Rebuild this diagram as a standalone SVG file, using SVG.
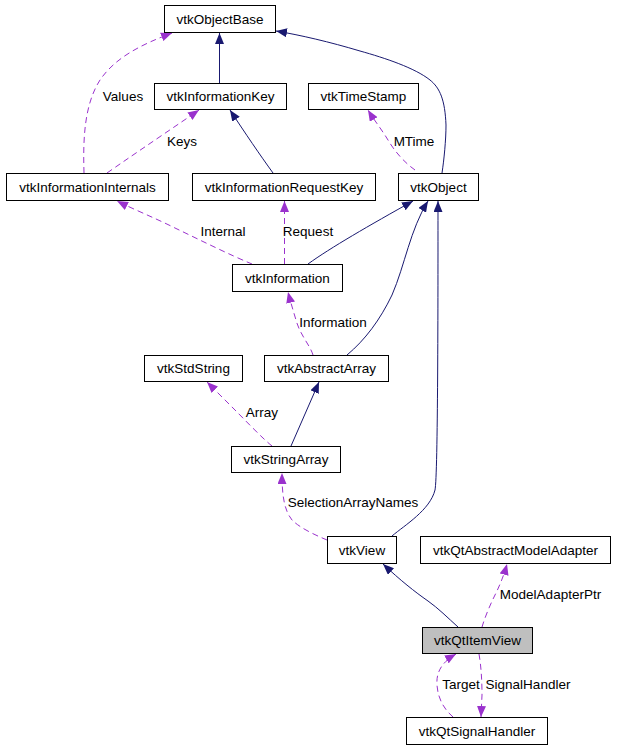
<svg xmlns="http://www.w3.org/2000/svg" width="623" height="749" viewBox="0 0 623 749">
<style>
.node rect{fill:#ffffff;stroke:#000000;stroke-width:1}
.node text{font-family:"Liberation Sans",Arial,sans-serif;font-size:13.5px;fill:#000000;text-anchor:middle}
.lbl{font-family:"Liberation Sans",Arial,sans-serif;font-size:13.5px;fill:#000000;text-anchor:middle}
.inh{fill:none;stroke:#191970;stroke-width:1;marker-end:url(#ah)}
.use{fill:none;stroke:#9a32cd;stroke-width:1;stroke-dasharray:6,4;marker-end:url(#ap)}
</style>
<defs>
<marker id="ah" markerUnits="userSpaceOnUse" viewBox="0 0 11 9" refX="11" refY="4.5" markerWidth="11" markerHeight="9" orient="auto">
<path d="M0,0 L11,4.5 L0,9 z" fill="#191970"/>
</marker>
<marker id="ap" markerUnits="userSpaceOnUse" viewBox="0 0 11 9" refX="11" refY="4.5" markerWidth="11" markerHeight="9" orient="auto">
<path d="M0,0 L11,4.5 L0,9 z" fill="#9a32cd"/>
</marker>
</defs>
<rect width="623" height="749" fill="#ffffff"/>
<g id="edges">
<path class="inh" d="M442,173 C444,160 446,140 446,125 C445,100 440,88 430,80 C415,68 385,58 360,51 C330,42 300,35 276,31"/>
<path class="inh" d="M219.5,83 L219.5,33"/>
<path class="use" d="M84,173 C83,140 84,105 100,80 C115,58 140,45 172,33"/>
<path class="use" d="M107,173 C140,150 170,130 199,110"/>
<path class="inh" d="M273,173 C260,155 245,133 230,110"/>
<path class="use" d="M415,170 C405,163 395,152 388,140 C382,130 374,120 368,110"/>
<path class="use" d="M252,264 C230,255 200,240 175,228 C155,218 135,210 117,201"/>
<path class="use" d="M284.5,264 L284.5,201"/>
<path class="inh" d="M308,264 C330,248 370,225 413,201"/>
<path class="inh" d="M347,355 C365,340 380,320 392,295 C405,265 410,230 428,201"/>
<path class="inh" d="M392,536 C405,525 430,510 435,490 C438,475 438,300 438,201"/>
<path class="use" d="M313,355 C310,345 300,335 296,320 C293,310 290,300 288,292"/>
<path class="use" d="M272,446 C262,438 245,420 235,410 C225,400 215,390 207,382"/>
<path class="inh" d="M291,446 L319,382"/>
<path class="use" d="M327,540 C315,535 300,528 292,520 C284,510 282,495 282,473"/>
<path class="inh" d="M458,627 C448,618 438,608 428,601 C415,592 400,580 383,564"/>
<path class="use" d="M482,627 C485,617 490,605 495,595 C500,585 504,575 507,564"/>
<path class="use" d="M479,654 C481,665 482,680 482,695 L481,717"/>
<path class="use" d="M453,717 C445,710 438,700 437,685 C436,672 442,662 456,654"/>
</g>
<g id="labels">
<text class="lbl" x="123" y="100.5">Values</text>
<text class="lbl" x="182" y="145.5">Keys</text>
<text class="lbl" x="414" y="145.5">MTime</text>
<text class="lbl" x="223" y="236">Internal</text>
<text class="lbl" x="308" y="236">Request</text>
<text class="lbl" x="333" y="326.5">Information</text>
<text class="lbl" x="262" y="416.5">Array</text>
<text class="lbl" x="353" y="507">SelectionArrayNames</text>
<text class="lbl" x="550.5" y="599">ModelAdapterPtr</text>
<text class="lbl" x="461" y="688.5">Target</text>
<text class="lbl" x="528" y="688.5">SignalHandler</text>
</g>
<g id="vtkObjectBase" class="node"><rect x="164.5" y="5.5" width="111" height="27"/><text x="220" y="23.5">vtkObjectBase</text></g>
<g id="vtkInformationKey" class="node"><rect x="154.5" y="83.5" width="132" height="26"/><text x="220.5" y="101">vtkInformationKey</text></g>
<g id="vtkTimeStamp" class="node"><rect x="308.5" y="83.5" width="110" height="26"/><text x="363.5" y="101">vtkTimeStamp</text></g>
<g id="vtkInformationInternals" class="node"><rect x="6.5" y="173.5" width="162" height="27"/><text x="87.5" y="191.5">vtkInformationInternals</text></g>
<g id="vtkInformationRequestKey" class="node"><rect x="192.5" y="173.5" width="183" height="27"/><text x="284" y="191.5">vtkInformationRequestKey</text></g>
<g id="vtkObject" class="node"><rect x="398.5" y="173.5" width="80" height="27"/><text x="438.5" y="191.5">vtkObject</text></g>
<g id="vtkInformation" class="node"><rect x="232.5" y="264.5" width="110" height="27"/><text x="287.5" y="282.5">vtkInformation</text></g>
<g id="vtkStdString" class="node"><rect x="144.5" y="355.5" width="98" height="26"/><text x="193.5" y="373">vtkStdString</text></g>
<g id="vtkAbstractArray" class="node"><rect x="264.5" y="355.5" width="124" height="26"/><text x="326.5" y="373">vtkAbstractArray</text></g>
<g id="vtkStringArray" class="node"><rect x="231.5" y="446.5" width="109" height="26"/><text x="286" y="464">vtkStringArray</text></g>
<g id="vtkView" class="node"><rect x="327.5" y="536.5" width="69" height="27"/><text x="362" y="554.5">vtkView</text></g>
<g id="vtkQtAbstractModelAdapter" class="node"><rect x="420.5" y="536.5" width="190" height="27"/><text x="515.5" y="554.5">vtkQtAbstractModelAdapter</text></g>
<g id="vtkQtItemView" class="node"><rect x="422.5" y="627.5" width="110" height="26" style="fill:#bfbfbf"/><text x="477.5" y="645">vtkQtItemView</text></g>
<g id="vtkQtSignalHandler" class="node"><rect x="406.5" y="717.5" width="141" height="27"/><text x="477" y="735.5">vtkQtSignalHandler</text></g>
</svg>
